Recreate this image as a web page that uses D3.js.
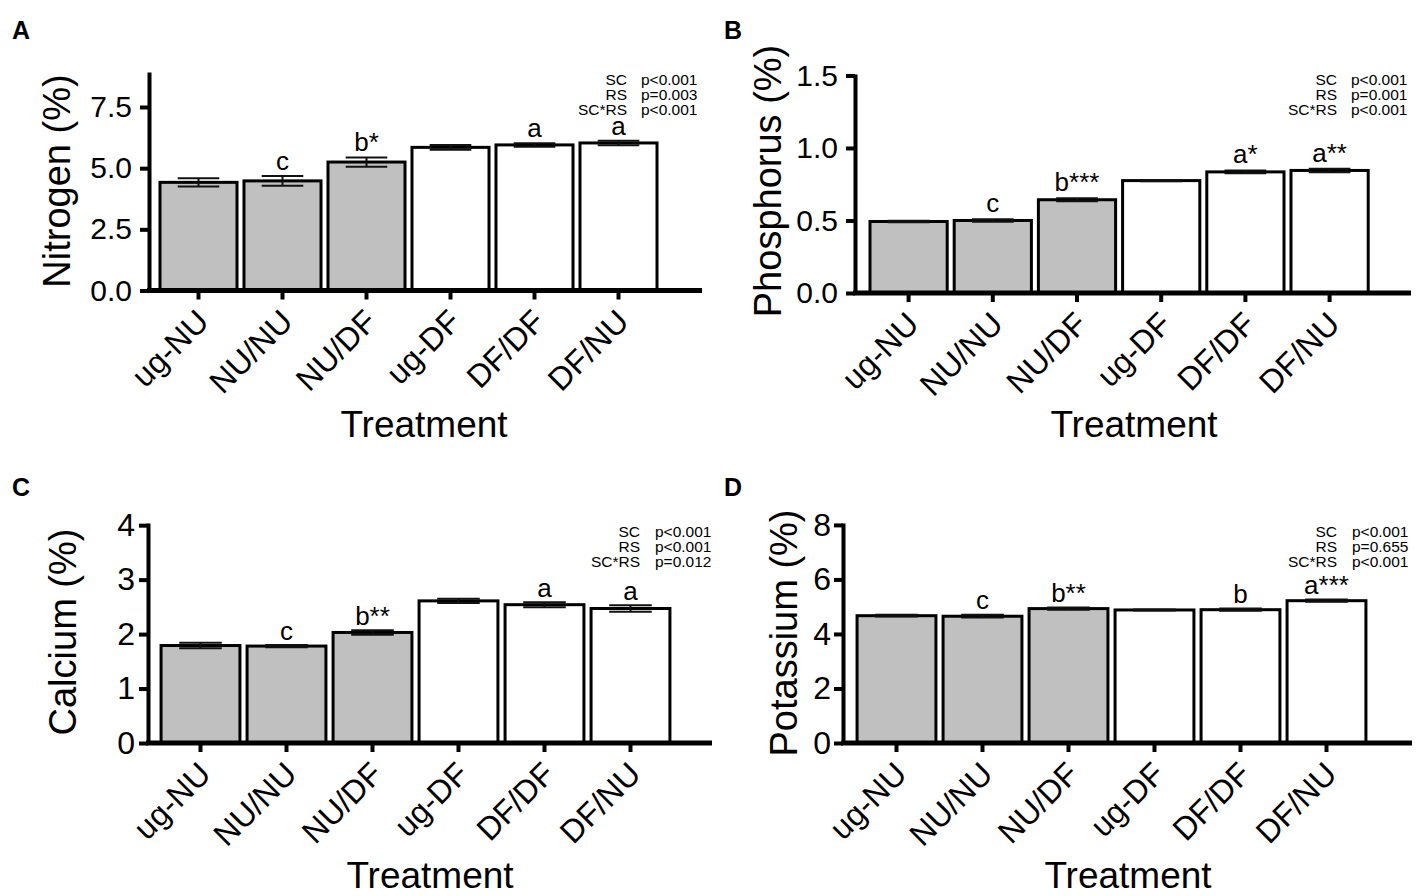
<!DOCTYPE html>
<html>
<head>
<meta charset="utf-8">
<script src="https://cdn.jsdelivr.net/npm/d3@7"></script>
<style>
  body { margin: 0; background: #fff; }
  text { font-family: "Liberation Sans", Arial, sans-serif; fill: #000; }
</style>
</head>
<body>
<div id="chart"></div>
<script>
// Treatments (same for all four panels)
var treatments = ["ug-NU", "NU/NU", "NU/DF", "ug-DF", "DF/DF", "DF/NU"];

// Nutrient means and standard errors
var nitrogen = [4.42, 4.48, 5.25, 5.85, 5.95, 6.03];
var nitrogenErr = [0.17, 0.2, 0.19, 0.1, 0.07, 0.09];
var phosphorus = [0.493, 0.5, 0.643, 0.775, 0.835, 0.845];
var phosphorusErr = [0.006, 0.008, 0.01, 0.004, 0.01, 0.012];
var calcium = [1.79, 1.78, 2.03, 2.61, 2.54, 2.47];
var calciumErr = [0.05, 0.02, 0.04, 0.04, 0.045, 0.06];
var potassium = [4.67, 4.65, 4.93, 4.88, 4.89, 5.22];
var potassiumErr = [0.03, 0.05, 0.04, 0.02, 0.04, 0.04];

// Letters over bars
var nitrogenLetters = ["", "c", "b*", "", "a", "a"];
var phosphorusLetters = ["", "c", "b***", "", "a*", "a**"];
var calciumLetters = ["", "c", "b**", "", "a", "a"];
var potassiumLetters = ["", "c", "b**", "", "b", "a***"];

// Two-way test results
var statTerms = ["SC", "RS", "SC*RS"];
var nitrogenP = ["p<0.001", "p=0.003", "p<0.001"];
var phosphorusP = ["p<0.001", "p=0.001", "p<0.001"];
var calciumP = ["p<0.001", "p<0.001", "p=0.012"];
var potassiumP = ["p<0.001", "p=0.655", "p<0.001"];

// Y tick values
var nitrogenTicks = [0, 2.5, 5, 7.5];
var phosphorusTicks = [0, 0.5, 1, 1.5];
var calciumTicks = [0, 1, 2, 3, 4];
var potassiumTicks = [0, 2, 4, 6, 8];

var svgWidth = 1421;
var svgHeight = 896;

var svg = d3.select("#chart")
  .append("svg")
  .attr("width", svgWidth)
  .attr("height", svgHeight);

svg.append("rect").attr("width", svgWidth).attr("height", svgHeight).attr("fill", "#fff");

// Panel layout (pixel positions only)
var panels = [
  { tag: "A", title: "Nitrogen (%)", values: nitrogen, err: nitrogenErr, letters: nitrogenLetters,
    pvals: nitrogenP, ticks: nitrogenTicks, fmt: ".1f", yMax: 8.93,
    x0: 149, y0: 290.5, yTop: 72, xEnd: 702, bandStart: 156.5, step: 84,
    tagX: 12, tagY: 39, titleX: 70, titleY: 181, trtX: 424, trtY: 437,
    statR: 627, statL: 641, statY: 85, tickFont: 30, tickGap: 17, letterGap: 6 },
  { tag: "B", title: "Phosphorus (%)", values: phosphorus, err: phosphorusErr, letters: phosphorusLetters,
    pvals: phosphorusP, ticks: phosphorusTicks, fmt: ".1f", yMax: 1.51,
    x0: 855, y0: 293, yTop: 74, xEnd: 1411, bandStart: 866.5, step: 84.2,
    tagX: 724, tagY: 39, titleX: 781, titleY: 181, trtX: 1134, trtY: 437,
    statR: 1337, statL: 1351, statY: 85, tickFont: 30, tickGap: 17, letterGap: 7 },
  { tag: "C", title: "Calcium (%)", values: calcium, err: calciumErr, letters: calciumLetters,
    pvals: calciumP, ticks: calciumTicks, fmt: "d", yMax: 4.04,
    x0: 148, y0: 743, yTop: 523, xEnd: 712, bandStart: 157.5, step: 86,
    tagX: 12, tagY: 496, titleX: 76, titleY: 632, trtX: 430, trtY: 888,
    statR: 640, statL: 655, statY: 537, tickFont: 32, tickGap: 13, letterGap: 5 },
  { tag: "D", title: "Potassium (%)", values: potassium, err: potassiumErr, letters: potassiumLetters,
    pvals: potassiumP, ticks: potassiumTicks, fmt: "d", yMax: 8.07,
    x0: 843, y0: 743, yTop: 523, xEnd: 1412, bandStart: 853.5, step: 86,
    tagX: 724, tagY: 496, titleX: 797, titleY: 633, trtX: 1128, trtY: 888,
    statR: 1337, statL: 1352, statY: 537, tickFont: 32, tickGap: 12, letterGap: 6 }
];

panels.forEach(drawPanel);

function drawPanel(p) {
  var g = svg.append("g");

  var yScale = d3.scaleLinear()
    .domain([0, p.yMax])
    .range([p.y0, p.yTop]);

  var xScale = d3.scaleBand()
    .domain(treatments)
    .range([p.bandStart, p.bandStart + treatments.length * p.step])
    .paddingInner(0.083)
    .paddingOuter(0.0415);

  var bw = xScale.bandwidth();
  var capW = bw * 0.54;

  // Bars
  g.selectAll(".bar")
    .data(treatments)
    .join("rect")
    .attr("class", "bar")
    .attr("x", d => xScale(d))
    .attr("y", (d, i) => yScale(p.values[i]))
    .attr("width", bw)
    .attr("height", (d, i) => p.y0 - yScale(p.values[i]))
    .attr("fill", (d, i) => i < 3 ? "#c0c0c0" : "#ffffff")
    .attr("stroke", "#000")
    .attr("stroke-width", 3);

  // Error bars
  var eb = g.selectAll(".err")
    .data(treatments)
    .join("g")
    .attr("class", "err")
    .attr("stroke", "#111")
    .attr("stroke-width", 2);

  eb.append("line")
    .attr("x1", d => xScale(d) + bw / 2)
    .attr("x2", d => xScale(d) + bw / 2)
    .attr("y1", (d, i) => yScale(p.values[i] - p.err[i]))
    .attr("y2", (d, i) => yScale(p.values[i] + p.err[i]));

  [-1, 1].forEach(function(s) {
    eb.append("line")
      .attr("x1", d => xScale(d) + bw / 2 - capW / 2)
      .attr("x2", d => xScale(d) + bw / 2 + capW / 2)
      .attr("y1", (d, i) => yScale(p.values[i] + s * p.err[i]))
      .attr("y2", (d, i) => yScale(p.values[i] + s * p.err[i]));
  });

  // Letters over bars
  g.selectAll(".letter")
    .data(treatments)
    .join("text")
    .attr("class", "letter")
    .attr("x", d => xScale(d) + bw / 2)
    .attr("y", (d, i) => yScale(p.values[i] + p.err[i]) - p.letterGap)
    .attr("text-anchor", "middle")
    .style("font-size", "26px")
    .text((d, i) => p.letters[i]);

  // Y axis
  var leftAxis = d3.axisLeft(yScale)
    .tickValues(p.ticks)
    .tickFormat(d3.format(p.fmt))
    .tickSizeInner(9)
    .tickSizeOuter(0)
    .tickPadding(p.tickGap - 9);

  var ya = g.append("g")
    .attr("transform", `translate(${p.x0}, 0)`)
    .call(leftAxis);
  ya.select(".domain").attr("stroke", "#000").attr("stroke-width", 4);
  ya.selectAll(".tick line").attr("stroke", "#000").attr("stroke-width", 4);
  ya.selectAll(".tick text")
    .attr("fill", "#000")
    .style("font-size", p.tickFont + "px")
    .style("font-family", "'Liberation Sans', Arial, sans-serif");

  // X axis line and ticks
  g.append("line")
    .attr("x1", p.x0 - 2)
    .attr("x2", p.xEnd)
    .attr("y1", p.y0)
    .attr("y2", p.y0)
    .attr("stroke", "#000")
    .attr("stroke-width", 5);

  g.selectAll(".xtick")
    .data(treatments)
    .join("line")
    .attr("class", "xtick")
    .attr("x1", d => xScale(d) + bw / 2)
    .attr("x2", d => xScale(d) + bw / 2)
    .attr("y1", p.y0)
    .attr("y2", p.y0 + 9)
    .attr("stroke", "#000")
    .attr("stroke-width", 4);

  g.selectAll(".xlabel")
    .data(treatments)
    .join("text")
    .attr("class", "xlabel")
    .attr("text-anchor", "end")
    .attr("transform", d => `translate(${xScale(d) + bw / 2 + 12}, ${p.y0 + 33}) rotate(-45)`)
    .style("font-size", "32px")
    .text(d => d);

  // Axis titles
  g.append("text")
    .attr("text-anchor", "middle")
    .attr("x", p.trtX)
    .attr("y", p.trtY)
    .style("font-size", "37px")
    .text("Treatment");

  g.append("text")
    .attr("text-anchor", "middle")
    .attr("transform", `translate(${p.titleX}, ${p.titleY}) rotate(-90)`)
    .style("font-size", "38px")
    .text(p.title);

  // Panel tag
  g.append("text")
    .attr("x", p.tagX)
    .attr("y", p.tagY)
    .style("font-size", "25px")
    .style("font-weight", "bold")
    .text(p.tag);

  // Stats block
  statTerms.forEach(function(term, i) {
    g.append("text")
      .attr("x", p.statR)
      .attr("y", p.statY + i * 14.8)
      .attr("text-anchor", "end")
      .style("font-size", "15.5px")
      .text(term);
    g.append("text")
      .attr("x", p.statL)
      .attr("y", p.statY + i * 14.8)
      .style("font-size", "15.5px")
      .text(p.pvals[i]);
  });
}
</script>
</body>
</html>
